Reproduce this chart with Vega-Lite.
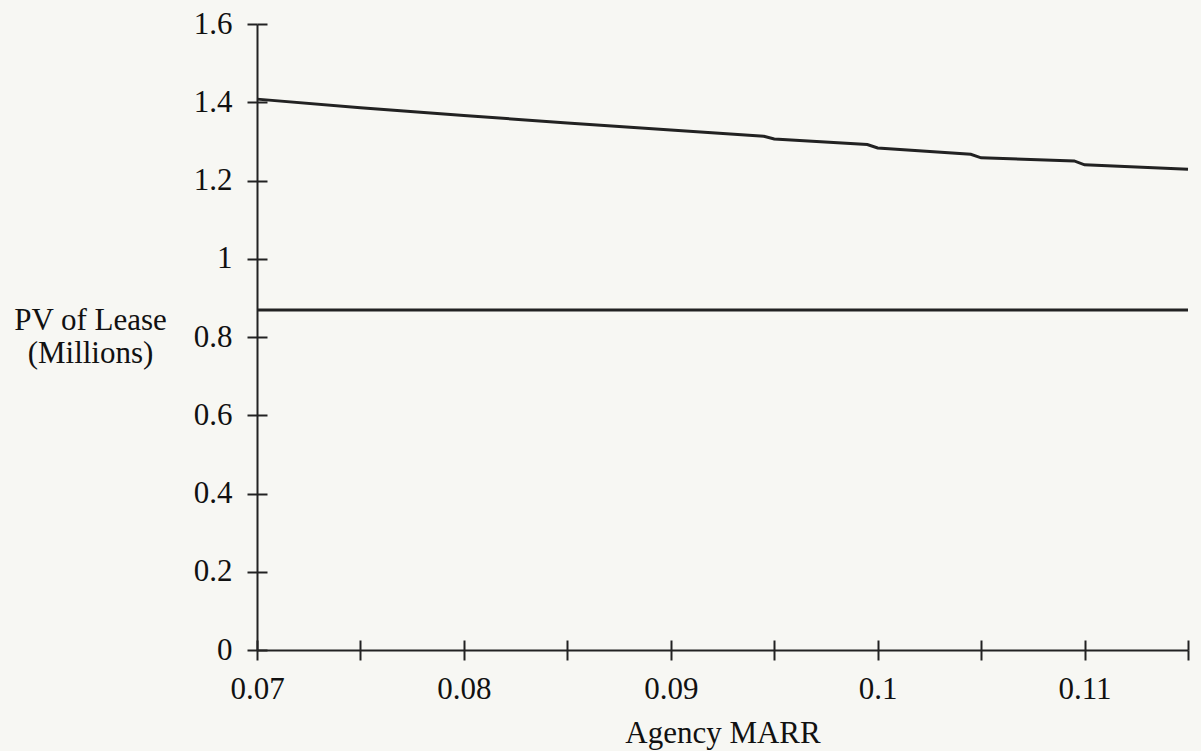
{
  "$schema": "https://vega.github.io/schema/vega-lite/v6.json",
  "width": 931,
  "height": 626,
  "autosize": {"type": "none"},
  "padding": {"left": 257, "top": 24, "right": 13, "bottom": 101},
  "background": "#f7f7f3",
  "config": {"view": {"stroke": null}, "font": "Liberation Serif"},
  "data": {
    "values": [
      {"rate": 0.07, "pv": 1.408, "series": "Lease"},
      {"rate": 0.075, "pv": 1.386, "series": "Lease"},
      {"rate": 0.08, "pv": 1.366, "series": "Lease"},
      {"rate": 0.085, "pv": 1.347, "series": "Lease"},
      {"rate": 0.09, "pv": 1.329, "series": "Lease"},
      {"rate": 0.0945, "pv": 1.313, "series": "Lease"},
      {"rate": 0.095, "pv": 1.306, "series": "Lease"},
      {"rate": 0.0995, "pv": 1.292, "series": "Lease"},
      {"rate": 0.1, "pv": 1.283, "series": "Lease"},
      {"rate": 0.1045, "pv": 1.267, "series": "Lease"},
      {"rate": 0.105, "pv": 1.258, "series": "Lease"},
      {"rate": 0.1095, "pv": 1.25, "series": "Lease"},
      {"rate": 0.11, "pv": 1.24, "series": "Lease"},
      {"rate": 0.115, "pv": 1.229, "series": "Lease"},
      {"rate": 0.07, "pv": 0.869, "series": "Flat"},
      {"rate": 0.115, "pv": 0.869, "series": "Flat"}
    ]
  },
  "layer": [
    {
      "mark": {"type": "line", "color": "#222222", "strokeWidth": 3},
      "encoding": {
        "x": {
          "field": "rate", "type": "quantitative",
          "scale": {"domain": [0.07, 0.115], "nice": false, "zero": false},
          "axis": {
            "orient": "bottom",
            "values": [0.07, 0.075, 0.08, 0.085, 0.09, 0.095, 0.1, 0.105, 0.11, 0.115],
            "labelExpr": "round(datum.value*1000) % 10 == 0 ? toString(round(datum.value*100)/100) : ''",
            "grid": false,
            "tickSize": 10, "tickWidth": 2, "tickColor": "#222222",
            "domainWidth": 2, "domainColor": "#222222",
            "labelFont": "Liberation Serif", "labelFontSize": 31, "labelColor": "#111111",
            "labelPadding": 14, "labelOverlap": false, "labelFlush": false,
            "title": "Agency MARR",
            "titleFont": "Liberation Serif", "titleFontSize": 31, "titleFontWeight": "normal",
            "titleColor": "#111111", "titleY": 92, "titleBaseline": "alphabetic"
          }
        },
        "y": {
          "field": "pv", "type": "quantitative",
          "scale": {"domain": [0, 1.6], "nice": false},
          "axis": {
            "orient": "left",
            "values": [0, 0.2, 0.4, 0.6, 0.8, 1, 1.2, 1.4, 1.6],
            "labelExpr": "toString(round(datum.value*10)/10)",
            "grid": false,
            "tickSize": 10, "tickWidth": 2, "tickColor": "#222222",
            "domainWidth": 2, "domainColor": "#222222",
            "labelFont": "Liberation Serif", "labelFontSize": 31, "labelColor": "#111111",
            "labelPadding": 15, "labelOverlap": false, "labelFlush": false,
            "title": ["PV of Lease", "(Millions)"],
            "titleFont": "Liberation Serif", "titleFontSize": 31, "titleFontWeight": "normal",
            "titleColor": "#111111", "titleAngle": 0, "titleX": -167, "titleY": 305,
            "titleAlign": "center", "titleBaseline": "alphabetic", "titleLineHeight": 33
          }
        },
        "detail": {"field": "series"}
      }
    },
    {
      "mark": {"type": "line", "opacity": 0},
      "encoding": {
        "x": {
          "field": "rate", "type": "quantitative",
          "axis": {
            "orient": "bottom",
            "values": [0.07, 0.075, 0.08, 0.085, 0.09, 0.095, 0.1, 0.105, 0.11, 0.115],
            "labels": false, "domain": false, "grid": false, "title": null,
            "tickSize": -10, "tickWidth": 2, "tickColor": "#222222"
          }
        },
        "y": {
          "field": "pv", "type": "quantitative",
          "axis": {
            "orient": "left",
            "values": [0, 0.2, 0.4, 0.6, 0.8, 1, 1.2, 1.4, 1.6],
            "labels": false, "domain": false, "grid": false, "title": null,
            "tickSize": -10, "tickWidth": 2, "tickColor": "#222222"
          }
        },
        "detail": {"field": "series"}
      }
    }
  ],
  "resolve": {"axis": {"x": "independent", "y": "independent"}}
}
